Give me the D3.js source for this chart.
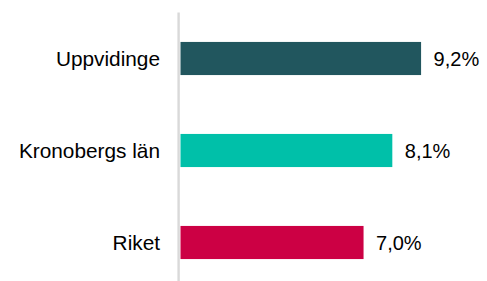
<!DOCTYPE html>
<html>
<head>
<meta charset="utf-8">
<script src="https://cdn.jsdelivr.net/npm/d3@7"></script>
<style>
  body { margin: 0; background: #fff; }
  svg { display: block; font-family: "Liberation Sans", Arial, sans-serif; }
</style>
</head>
<body>
<div id="chart"></div>
<script>
const categories = ["Uppvidinge", "Kronobergs län", "Riket"];
const values = [9.2, 8.1, 7.0];
const labels = ["9,2%", "8,1%", "7,0%"];
const colors = ["#21565e", "#00c0a9", "#cc0044"];

const width = 487, height = 281;

const svg = d3.select("#chart")
  .append("svg")
    .attr("width", width)
    .attr("height", height);

const data = categories.map((c, i) => ({ cat: c, value: values[i], label: labels[i], color: colors[i] }));

const xScale = d3.scaleLinear()
  .domain([0, 10])
  .range([180.5, 442]);

const yScale = d3.scaleBand()
  .domain(categories)
  .range([12.5, 288.5])
  .paddingInner(0.64)
  .paddingOuter(0.32);

// bars
svg.selectAll(".bar")
  .data(data)
  .join("rect")
    .attr("class", "bar")
    .attr("x", xScale(0))
    .attr("y", d => yScale(d.cat))
    .attr("width", d => xScale(d.value) - xScale(0))
    .attr("height", yScale.bandwidth())
    .attr("fill", d => d.color);

// axis line
svg.append("line")
  .attr("x1", 178.6).attr("x2", 178.6)
  .attr("y1", 12.5).attr("y2", height)
  .attr("stroke", "#d9d9d9")
  .attr("stroke-width", 2.4);

// category labels
svg.selectAll(".cat")
  .data(data)
  .join("text")
    .attr("class", "cat")
    .attr("x", 160)
    .attr("y", d => yScale(d.cat) + yScale.bandwidth() / 2)
    .attr("text-anchor", "end")
    .attr("dominant-baseline", "central")
    .attr("fill", "#000")
    .style("font-size", "20.8px")
    .text(d => d.cat);

// value labels
svg.selectAll(".val")
  .data(data)
  .join("text")
    .attr("class", "val")
    .attr("x", d => xScale(d.value) + 12.5)
    .attr("y", d => yScale(d.cat) + yScale.bandwidth() / 2)
    .attr("dominant-baseline", "central")
    .attr("fill", "#000")
    .style("font-size", "20px")
    .text(d => d.label);
</script>
</body>
</html>
